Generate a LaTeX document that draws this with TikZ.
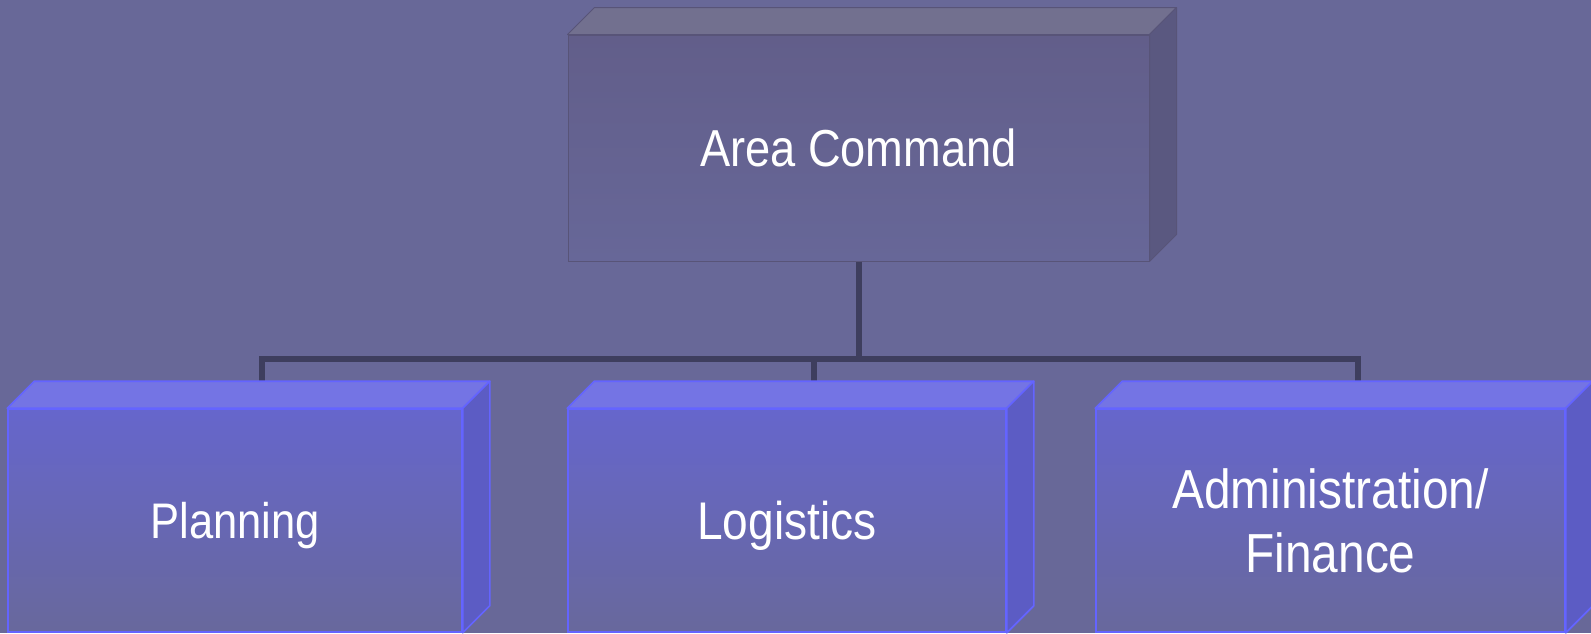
\documentclass[tikz,border=0pt]{standalone}
\usepackage{fontspec}
\setmainfont{Liberation Sans}[FakeStretch=0.87]
\definecolor{backdrop}{RGB}{104,104,152}
\definecolor{linkcol}{RGB}{62,62,94}
\definecolor{headtop}{RGB}{98,94,138}
\definecolor{headbottom}{RGB}{103,103,152}
\definecolor{headlid}{RGB}{114,112,143}
\definecolor{headside}{RGB}{90,88,128}
\definecolor{headedge}{RGB}{88,84,120}
\definecolor{unittop}{RGB}{102,102,204}
\definecolor{unitbottom}{RGB}{104,104,156}
\definecolor{unitlid}{RGB}{116,116,228}
\definecolor{unitside}{RGB}{92,92,196}
\definecolor{unitedge}{RGB}{100,100,255}
\tikzstyle{unit}=[draw=unitedge, line width=0.8pt, top color=unittop, bottom color=unitbottom, text=white, inner sep=0pt, text depth=0pt, align=center, font=\fontsize{25}{32}\selectfont]
\tikzstyle{head unit}=[unit, draw=headedge, line width=0.5pt, top color=headtop, bottom color=headbottom, font=\fontsize{26}{32}\selectfont]
\tikzstyle{unit lid}=[fill=unitlid, draw=unitedge, line width=0.8pt, line join=round]
\tikzstyle{unit side}=[fill=unitside, draw=unitedge, line width=0.8pt, line join=round]
\tikzstyle{head lid}=[fill=headlid, draw=headedge, line width=0.5pt, line join=round]
\tikzstyle{head side}=[fill=headside, draw=headedge, line width=0.5pt, line join=round]
\tikzstyle{link}=[draw=linkcol, line width=3pt, line join=miter]

\begin{document}
\begin{tikzpicture}[x=0.5pt, y=-0.5pt]
  \useasboundingbox (0,0) rectangle (1591,633);
  \clip (0,0) rectangle (1591,633);
  \fill[backdrop] (0,0) rectangle (1591,633);
  \node[head unit, minimum width=290.5pt, minimum height=113pt] (area) at (858.5,148) {Area Command};
  \node[unit, minimum width=227pt, minimum height=111.5pt] (plan) at (235,520.5) {Planning};
  \node[unit, minimum width=219pt, minimum height=111.5pt, font=\fontsize{26.5}{32}\selectfont] (logi) at (787,520.5) {Logistics};
  \node[unit, minimum width=234.5pt, minimum height=111.5pt, font=\fontsize{27.5}{32}\selectfont] (admin) at (1330.5,520.5) {Administration/\\Finance};
  \coordinate (bar) at (0,359);
  \foreach \n in {plan, logi, admin}
    \coordinate (\n-top) at ([shift={(27,-27)}]\n.north);
  % connectors
  \draw[link] (area.south) -- (area.south |- bar);
  \draw[link] (plan-top) -- (plan-top |- bar) -- (admin-top |- bar) -- (admin-top);
  \draw[link] (logi-top |- bar) -- (logi-top);
  % depth faces
  \draw[head lid] (area.north west) -- ([shift={(27,-27)}]area.north west)
    -- ([shift={(27,-27)}]area.north east) -- (area.north east) -- cycle;
  \draw[head side] (area.north east) -- ([shift={(27,-27)}]area.north east)
    -- ([shift={(27,-27)}]area.south east) -- (area.south east) -- cycle;
  \foreach \n in {plan, logi, admin} {
    \draw[unit lid] (\n.north west) -- ([shift={(27,-27)}]\n.north west)
      -- ([shift={(27,-27)}]\n.north east) -- (\n.north east) -- cycle;
    \draw[unit side] (\n.north east) -- ([shift={(27,-27)}]\n.north east)
      -- ([shift={(27,-27)}]\n.south east) -- (\n.south east) -- cycle;
  }
\end{tikzpicture}
\end{document}
